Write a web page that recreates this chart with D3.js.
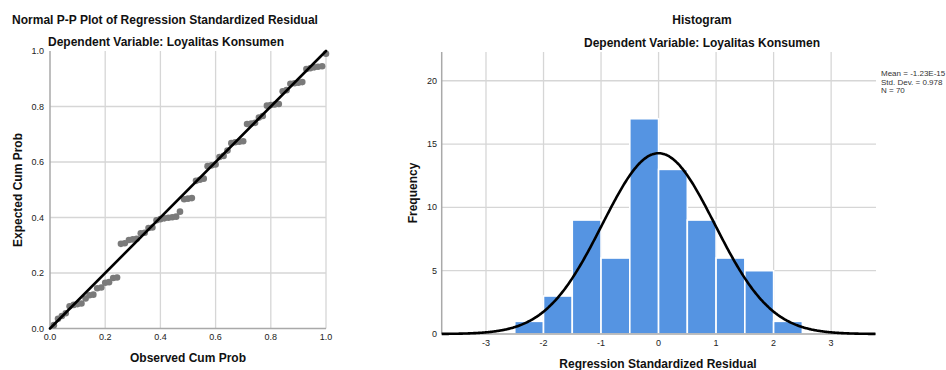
<!DOCTYPE html>
<html><head><meta charset="utf-8">
<script src="https://cdn.jsdelivr.net/npm/d3@7"></script>
<style>
body{margin:0;background:#fff;}
svg{display:block;font-family:"Liberation Sans",Arial,sans-serif;}
</style></head>
<body><svg id="c" width="946" height="370"></svg>
<script>
// ---- P-P plot data ----
const observedCumProb = [0.014,0.029,0.043,0.057,0.071,0.086,0.100,0.114,0.129,0.143,
 0.157,0.171,0.186,0.200,0.214,0.229,0.243,0.257,0.271,0.286,
 0.300,0.314,0.329,0.343,0.357,0.371,0.386,0.400,0.414,0.429,
 0.443,0.457,0.471,0.486,0.500,0.514,0.529,0.543,0.557,0.571,
 0.586,0.600,0.614,0.629,0.643,0.657,0.671,0.686,0.700,0.714,
 0.729,0.743,0.757,0.771,0.786,0.800,0.814,0.829,0.843,0.857,
 0.871,0.886,0.900,0.914,0.929,0.943,0.957,0.971,0.986,1.000];
const expectedCumProb = [0.012,0.035,0.045,0.055,0.080,0.085,0.088,0.090,0.108,0.120,
 0.122,0.145,0.148,0.165,0.167,0.182,0.184,0.305,0.307,0.319,
 0.321,0.323,0.343,0.345,0.362,0.364,0.390,0.394,0.397,0.399,
 0.401,0.403,0.421,0.466,0.468,0.470,0.532,0.536,0.540,0.585,
 0.588,0.591,0.618,0.622,0.641,0.668,0.671,0.673,0.675,0.737,
 0.739,0.741,0.760,0.766,0.803,0.805,0.807,0.809,0.855,0.859,
 0.882,0.884,0.886,0.888,0.935,0.938,0.941,0.943,0.945,0.990];
const ppTicks = [0.0,0.2,0.4,0.6,0.8,1.0];

// ---- Histogram data ----
const binStarts = [-2.5,-2.0,-1.5,-1.0,-0.5,0.0,0.5,1.0,1.5,2.0];
const binWidth = 0.5;
const frequencies = [1,3,9,6,17,13,9,6,5,1];
const histXTicks = [-3,-2,-1,0,1,2,3];
const histYTicks = [0,5,10,15,20];
const statMean = -1.23e-15, statSD = 0.978, statN = 70;
const statLabels = ["Mean = -1.23E-15","Std. Dev. = 0.978","N = 70"];

const svg = d3.select("#c");
const gridCol = "#d6d6d6", axisCol = "#a9a9a9", textCol = "#222";

function title(x,y,t){
  svg.append("text").attr("x",x).attr("y",y).attr("text-anchor","middle")
    .attr("font-size",12).attr("font-weight","bold").attr("fill","#111").text(t);
}

// ================= P-P plot =================
const px = d3.scaleLinear().domain([0,1]).range([50,326]);
const py = d3.scaleLinear().domain([0,1]).range([328.5,51]);
title(165,24,"Normal P-P Plot of Regression Standardized Residual");
title(166,46,"Dependent Variable: Loyalitas Konsumen");

const gL = svg.append("g");
gL.selectAll(".vg").data(ppTicks.slice(1)).enter().append("line")
  .attr("x1",d=>px(d)).attr("x2",d=>px(d)).attr("y1",py(1)).attr("y2",py(0))
  .attr("stroke",gridCol).attr("stroke-width",1.3);
gL.selectAll(".hg").data(ppTicks.slice(1,5)).enter().append("line")
  .attr("x1",px(0)).attr("x2",px(1)).attr("y1",d=>py(d)).attr("y2",d=>py(d))
  .attr("stroke",gridCol).attr("stroke-width",1.3);
gL.append("line").attr("x1",px(0)).attr("x2",px(0)).attr("y1",py(1)).attr("y2",py(0)).attr("stroke",axisCol).attr("stroke-width",1.5);
gL.append("line").attr("x1",px(0)).attr("x2",px(1)).attr("y1",py(0)).attr("y2",py(0)).attr("stroke",axisCol).attr("stroke-width",1.5);

gL.selectAll(".xt").data(ppTicks).enter().append("text")
  .attr("x",d=>px(d)).attr("y",340).attr("text-anchor","middle").attr("font-size",9).attr("fill",textCol)
  .text(d=>d3.format(".1f")(d));
gL.selectAll(".yt").data(ppTicks).enter().append("text")
  .attr("x",44).attr("y",d=>py(d)+3).attr("text-anchor","end").attr("font-size",9).attr("fill",textCol)
  .text(d=>d3.format(".1f")(d));

gL.selectAll("circle").data(observedCumProb).enter().append("circle")
  .attr("cx",d=>px(d)).attr("cy",(d,i)=>py(expectedCumProb[i])).attr("r",3.3)
  .attr("fill","#7a7a7a");
gL.append("line").attr("x1",px(0)).attr("y1",py(0)).attr("x2",px(1)).attr("y2",py(1))
  .attr("stroke","#000").attr("stroke-width",2.6).attr("stroke-linecap","round");

svg.append("text").attr("x",188).attr("y",362).attr("text-anchor","middle")
  .attr("font-size",12).attr("font-weight","bold").attr("fill","#111").text("Observed Cum Prob");
svg.append("text").attr("transform","translate(22,190) rotate(-90)").attr("text-anchor","middle")
  .attr("font-size",12).attr("font-weight","bold").attr("fill","#111").text("Expected Cum Prob");

// ================= Histogram =================
const hx = d3.scaleLinear().domain([-3.77,3.78]).range([441.7,876]);
const hy = d3.scaleLinear().domain([0,22.27]).range([334,52]);
title(702,24,"Histogram");
title(702,47,"Dependent Variable: Loyalitas Konsumen");

const gR = svg.append("g");
gR.selectAll(".vg").data(histXTicks).enter().append("line")
  .attr("x1",d=>hx(d)).attr("x2",d=>hx(d)).attr("y1",hy.range()[1]).attr("y2",hy(0))
  .attr("stroke",gridCol).attr("stroke-width",1.3);
gR.selectAll(".hg").data(histYTicks.slice(1)).enter().append("line")
  .attr("x1",hx.range()[0]).attr("x2",hx.range()[1]).attr("y1",d=>hy(d)).attr("y2",d=>hy(d))
  .attr("stroke",gridCol).attr("stroke-width",1.3);

gR.selectAll("rect").data(frequencies).enter().append("rect")
  .attr("x",(d,i)=>hx(binStarts[i])).attr("width",(d,i)=>hx(binStarts[i]+binWidth)-hx(binStarts[i]))
  .attr("y",d=>hy(d)).attr("height",d=>hy(0)-hy(d))
  .attr("fill","#5594e2").attr("stroke","#fff").attr("stroke-width",1.6);

gR.append("line").attr("x1",hx.range()[0]).attr("x2",hx.range()[0]).attr("y1",hy.range()[1]).attr("y2",hy(0)).attr("stroke",axisCol).attr("stroke-width",1.5);
gR.append("line").attr("x1",hx.range()[0]).attr("x2",hx.range()[1]).attr("y1",hy(0)).attr("y2",hy(0)).attr("stroke",axisCol).attr("stroke-width",1.5);

// fitted normal curve from displayed statistics
const curvePts = d3.range(-3.77,3.781,0.02).map(x=>[x,
  statN*binWidth/(statSD*Math.sqrt(2*Math.PI))*Math.exp(-0.5*Math.pow((x-statMean)/statSD,2))]);
gR.append("path").datum(curvePts)
  .attr("d",d3.line().x(d=>hx(d[0])).y(d=>hy(d[1])).curve(d3.curveBasis))
  .attr("fill","none").attr("stroke","#000").attr("stroke-width",2.6);

gR.selectAll(".xt").data(histXTicks).enter().append("text")
  .attr("x",d=>hx(d)).attr("y",346).attr("text-anchor","middle").attr("font-size",9).attr("fill",textCol)
  .text(d=>d);
gR.selectAll(".yt").data(histYTicks).enter().append("text")
  .attr("x",437).attr("y",d=>hy(d)+3).attr("text-anchor","end").attr("font-size",9).attr("fill",textCol)
  .text(d=>d);

svg.append("text").attr("x",658).attr("y",368).attr("text-anchor","middle")
  .attr("font-size",12).attr("font-weight","bold").attr("fill","#111").text("Regression Standardized Residual");
svg.append("text").attr("transform","translate(417,193) rotate(-90)").attr("text-anchor","middle")
  .attr("font-size",12).attr("font-weight","bold").attr("fill","#111").text("Frequency");

svg.selectAll(".st").data(statLabels).enter().append("text")
  .attr("x",881).attr("y",(d,i)=>76+i*8.5).attr("font-size",8).attr("fill","#333").text(d=>d);
</script></body></html>
